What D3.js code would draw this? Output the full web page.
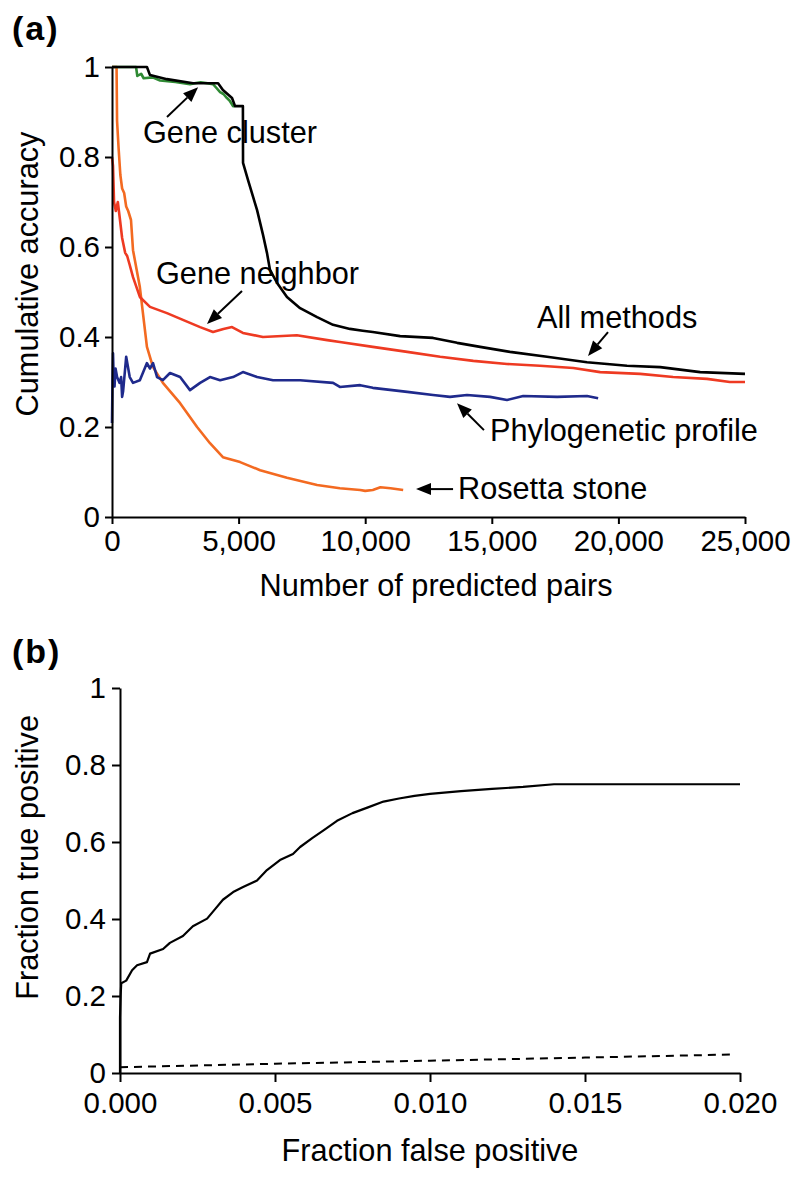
<!DOCTYPE html>
<html>
<head>
<meta charset="utf-8">
<script src="https://cdn.jsdelivr.net/npm/d3@7"></script>
<style>
  html, body { margin: 0; padding: 0; background: #fff; }
  svg text { font-family: "Liberation Sans", Arial, Helvetica, sans-serif; fill: #000; }
</style>
</head>
<body>
<svg id="chart" width="800" height="1198"></svg>
<script>
// ---------------- Panel (a) data ----------------
const allX = [0, 1380, 1500, 2170, 3200, 4190, 4380, 4740, 4860, 5170, 5175, 5370, 5730, 5960, 6120, 6240, 6520, 6910, 7430, 8100, 8730, 9400, 9900, 10300, 11380, 12680, 13630, 14540, 15720, 17180, 18760, 20340, 21650, 23230, 25000];
const allY = [1.0, 1.0, 0.982, 0.973, 0.964, 0.964, 0.949, 0.931, 0.913, 0.913, 0.787, 0.749, 0.682, 0.628, 0.587, 0.549, 0.52, 0.489, 0.464, 0.444, 0.427, 0.418, 0.414, 0.411, 0.402, 0.398, 0.387, 0.378, 0.367, 0.356, 0.344, 0.336, 0.333, 0.322, 0.318];

const clusterX = [0, 950, 1000, 1150, 1250, 1600, 1900, 2500, 3080, 3500, 3990, 4100, 4270, 4400, 4540, 4650, 4780, 4850];
const clusterY = [1.0, 1.0, 0.98, 0.985, 0.975, 0.977, 0.970, 0.967, 0.962, 0.966, 0.962, 0.955, 0.944, 0.940, 0.931, 0.925, 0.913, 0.913];

const neighborX = [0, 40, 80, 150, 230, 316, 400, 520, 600, 700, 830, 1100, 1500, 2170, 2800, 3480, 3990, 4400, 4740, 5170, 5960, 7300, 8500, 9000, 10300, 11660, 12960, 14270, 15600, 16900, 18220, 19280, 20860, 22160, 23500, 24400, 25000];
const neighborY = [0.80, 0.78, 0.70, 0.68, 0.70, 0.66, 0.62, 0.587, 0.58, 0.56, 0.533, 0.489, 0.467, 0.453, 0.438, 0.422, 0.411, 0.418, 0.422, 0.409, 0.400, 0.404, 0.393, 0.389, 0.378, 0.367, 0.356, 0.347, 0.340, 0.336, 0.331, 0.322, 0.318, 0.311, 0.307, 0.300, 0.300];

const rosettaX = [0, 180, 200, 260, 330, 400, 480, 560, 640, 750, 830, 1100, 1380, 1620, 2010, 2690, 3360, 3870, 4380, 5060, 5850, 6910, 8100, 9000, 9800, 10000, 10300, 10600, 11000, 11500];
const rosettaY = [1.0, 1.0, 0.88, 0.82, 0.76, 0.73, 0.72, 0.69, 0.68, 0.66, 0.593, 0.511, 0.378, 0.333, 0.298, 0.253, 0.200, 0.164, 0.133, 0.122, 0.104, 0.087, 0.071, 0.064, 0.060, 0.058, 0.060, 0.066, 0.064, 0.060];

const phyloX = [0, 20, 40, 60, 100, 140, 200, 300, 360, 400, 440, 560, 700, 830, 1100, 1380, 1500, 1620, 1780, 2010, 2290, 2690, 3080, 3480, 3870, 4270, 4780, 5170, 5730, 6360, 7430, 8730, 9000, 9800, 10300, 11660, 12680, 13350, 14020, 14930, 15600, 16240, 17580, 18760, 19200];
const phyloY = [0.209, 0.30, 0.364, 0.32, 0.29, 0.33, 0.311, 0.298, 0.311, 0.267, 0.28, 0.356, 0.311, 0.298, 0.304, 0.342, 0.33, 0.342, 0.311, 0.304, 0.32, 0.311, 0.282, 0.298, 0.311, 0.304, 0.311, 0.322, 0.311, 0.304, 0.304, 0.298, 0.289, 0.293, 0.287, 0.278, 0.271, 0.267, 0.271, 0.267, 0.26, 0.269, 0.267, 0.269, 0.264];

const aXTicks = [0, 5000, 10000, 15000, 20000, 25000];
const aYTicks = [0, 0.2, 0.4, 0.6, 0.8, 1];

// ---------------- Panel (b) data ----------------
const rocX = [0, 0, 0.00002, 0.00004, 0.0002, 0.00039, 0.00055, 0.00087, 0.00097, 0.00139, 0.00161, 0.00203, 0.00235, 0.00281, 0.00306, 0.00332, 0.00365, 0.00397, 0.00442, 0.00474, 0.00516, 0.00558, 0.00581, 0.0062, 0.0066, 0.0070, 0.0075, 0.0080, 0.0085, 0.0090, 0.0095, 0.0100, 0.0110, 0.0120, 0.0130, 0.0140, 0.0150, 0.0200];
const rocY = [0, 0.145, 0.20, 0.233, 0.24, 0.267, 0.28, 0.288, 0.31, 0.322, 0.338, 0.356, 0.381, 0.401, 0.425, 0.45, 0.47, 0.483, 0.50, 0.527, 0.553, 0.569, 0.587, 0.61, 0.632, 0.655, 0.675, 0.69, 0.705, 0.713, 0.72, 0.725, 0.732, 0.738, 0.743, 0.75, 0.75, 0.75];

const randX = [0, 0.005, 0.010, 0.015, 0.0197];
const randY = [0.015, 0.024, 0.032, 0.040, 0.048];

const bXTicks = [0, 0.005, 0.010, 0.015, 0.020];
const bYTicks = [0, 0.2, 0.4, 0.6, 0.8, 1];

// ---------------- Drawing ----------------
const svg = d3.select("#chart");
const TICKFONT = 29.5;
const FONT = 30.7;

const zip = (xs, ys) => xs.map((x, i) => [x, ys[i]]);
const yFmt = d => (d === 0 ? "0" : d === 1 ? "1" : d.toFixed(1));

function styleAxis(g) {
  g.selectAll("path.domain").attr("stroke", "#000").attr("stroke-width", 2);
  g.selectAll(".tick line").attr("stroke", "#000").attr("stroke-width", 2);
  g.selectAll(".tick text").attr("font-size", TICKFONT).attr("font-family", '"Liberation Sans", Arial, sans-serif').attr("fill", "#000");
}

function arrow(g, x1, y1, x2, y2) {
  const ang = Math.atan2(y2 - y1, x2 - x1);
  const L = 15, W = 6;
  const bx = x2 - L * Math.cos(ang), by = y2 - L * Math.sin(ang);
  g.append("line").attr("x1", x1).attr("y1", y1).attr("x2", bx).attr("y2", by)
    .attr("stroke", "#000").attr("stroke-width", 2);
  const px = -Math.sin(ang) * W, py = Math.cos(ang) * W;
  g.append("path")
    .attr("d", `M${x2},${y2}L${bx + px},${by + py}L${bx - px},${by - py}Z`)
    .attr("fill", "#000");
}

// Panel (a)
const ax = d3.scaleLinear().domain([0, 25000]).range([112, 745]);
const ay = d3.scaleLinear().domain([0, 1]).range([517, 67]);
const gA = svg.append("g");

const lineA = d3.line().x(d => ax(d[0])).y(d => ay(d[1]));
const seriesA = [
  { data: zip(rosettaX, rosettaY), color: "#f36a21" },
  { data: zip(neighborX, neighborY), color: "#ee3a22" },
  { data: zip(phyloX, phyloY), color: "#1f2a8c" },
  { data: zip(clusterX, clusterY), color: "#2f8a34" },
  { data: zip(allX, allY), color: "#000000" }
];
gA.selectAll("path.series").data(seriesA).join("path")
  .attr("class", "series")
  .attr("d", d => lineA(d.data))
  .attr("fill", "none")
  .attr("stroke", d => d.color)
  .attr("stroke-width", 2.6)
  .attr("stroke-linejoin", "round");

gA.append("g").attr("transform", "translate(0,517)")
  .call(d3.axisBottom(ax).tickValues(aXTicks).tickFormat(d3.format(",")).tickSize(7).tickPadding(6).tickSizeOuter(0))
  .call(styleAxis);
gA.append("g").attr("transform", "translate(112,0)")
  .call(d3.axisLeft(ay).tickValues(aYTicks).tickFormat(yFmt).tickSize(7).tickPadding(5).tickSizeOuter(0))
  .call(styleAxis);

// Panel (a) labels
svg.append("text").attr("x", 12).attr("y", 40).attr("font-size", 34).attr("font-weight", "bold")
  .attr("letter-spacing", 2).text("(a)");
svg.append("text").attr("transform", `translate(38,${ay(0.54)}) rotate(-90)`)
  .attr("text-anchor", "middle").attr("font-size", FONT).text("Cumulative accuracy");
svg.append("text").attr("x", ax(12800)).attr("y", 596)
  .attr("text-anchor", "middle").attr("font-size", FONT).text("Number of predicted pairs");

// Annotations (data coordinates)
const notesA = [
  { text: "Gene cluster", tx: 1224, ty: 0.856, from: [2172, 0.889], to: [3400, 0.955] },
  { text: "Gene neighbor", tx: 1738, ty: 0.542, from: [5134, 0.502], to: [3752, 0.429] },
  { text: "All methods", tx: 16785, ty: 0.444, from: [19590, 0.411], to: [18800, 0.358] },
  { text: "Phylogenetic profile", tx: 14930, ty: 0.193, from: [14690, 0.193], to: [13625, 0.253] },
  { text: "Rosetta stone", tx: 13665, ty: 0.064, from: [13470, 0.062], to: [12006, 0.062] }
];
notesA.forEach(n => {
  gA.append("text").attr("x", ax(n.tx)).attr("y", ay(n.ty)).attr("dy", "0.36em")
    .attr("font-size", FONT).text(n.text);
  arrow(gA, ax(n.from[0]), ay(n.from[1]), ax(n.to[0]), ay(n.to[1]));
});

// Panel (b)
const bx = d3.scaleLinear().domain([0, 0.02]).range([120, 740]);
const by = d3.scaleLinear().domain([0, 1]).range([1073, 688]);
const gB = svg.append("g");
const lineB = d3.line().x(d => bx(d[0])).y(d => by(d[1]));

gB.append("path").attr("d", lineB(zip(randX, randY)))
  .attr("fill", "none").attr("stroke", "#000").attr("stroke-width", 2)
  .attr("stroke-dasharray", "8,6");
gB.append("path").attr("d", lineB(zip(rocX, rocY)))
  .attr("fill", "none").attr("stroke", "#000").attr("stroke-width", 2.2)
  .attr("stroke-linejoin", "round");

gB.append("g").attr("transform", "translate(0,1073)")
  .call(d3.axisBottom(bx).tickValues(bXTicks).tickFormat(d3.format(".3f")).tickSize(9).tickPadding(10).tickSizeOuter(0))
  .call(styleAxis);
gB.append("g").attr("transform", "translate(120,0)")
  .call(d3.axisLeft(by).tickValues(bYTicks).tickFormat(yFmt).tickSize(8).tickPadding(6).tickSizeOuter(0))
  .call(styleAxis);

svg.append("text").attr("x", 12).attr("y", 663).attr("font-size", 34).attr("font-weight", "bold")
  .attr("letter-spacing", 2).text("(b)");
svg.append("text").attr("transform", `translate(38,${by(0.56)}) rotate(-90)`)
  .attr("text-anchor", "middle").attr("font-size", FONT).text("Fraction true positive");
svg.append("text").attr("x", bx(0.01)).attr("y", 1161)
  .attr("text-anchor", "middle").attr("font-size", FONT).text("Fraction false positive");
</script>
</body>
</html>
